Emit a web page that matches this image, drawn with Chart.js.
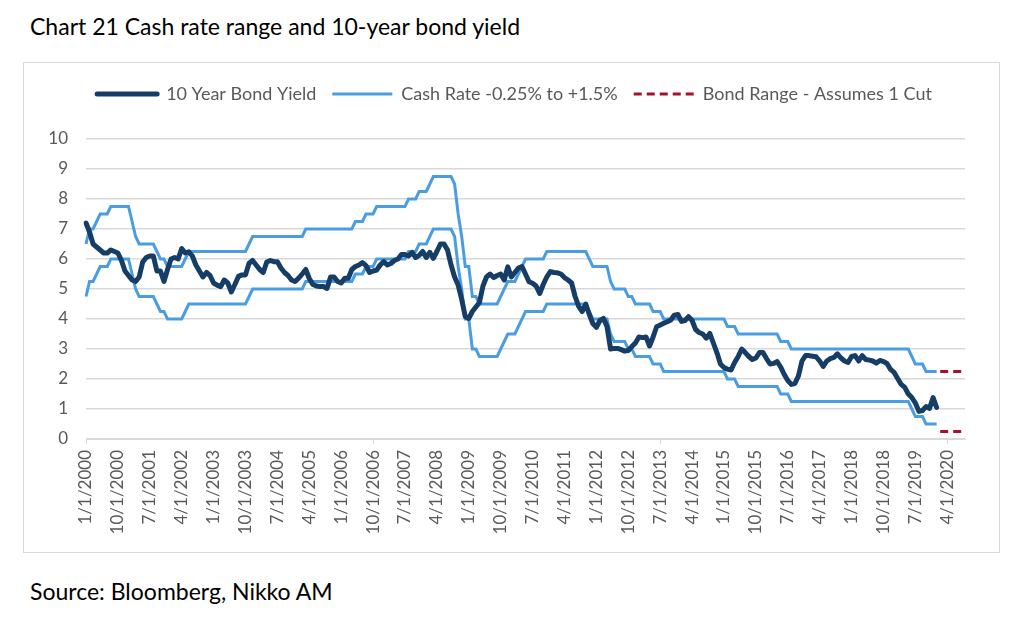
<!DOCTYPE html>
<html>
<head>
<meta charset="utf-8">
<title>Chart 21 Cash rate range and 10-year bond yield</title>
<script src="https://cdn.jsdelivr.net/npm/chart.js@4.4.0/dist/chart.umd.min.js"></script>
<style>
    body {
        margin: 0;
        background: #fff;
        font-family: Lato, 'Open Sans', sans-serif;
    }
    .title {
        position: absolute;
        left: 30px;
        top: 12px;
        font-size: 23px;
        color: #000;
        white-space: nowrap;
    }
    .box {
        position: absolute;
        left: 23px;
        top: 62px;
        width: 975px;
        height: 489px;
        border: 1px solid #d9d9d9;
    }
    .source {
        position: absolute;
        left: 30px;
        top: 577px;
        font-size: 23px;
        color: #000;
        white-space: nowrap;
    }
</style>
</head>
<body>
<div class="title">Chart 21 Cash rate range and 10-year bond yield</div>
<div class="box"><canvas id="rateChart" width="975" height="489"></canvas></div>
<div class="source">Source: Bloomberg, Nikko AM</div>

<script>
//globals
const firstYear = 2000;
const monthCount = 249; // 1/1/2000 .. 9/1/2020
const labelStep = 9;    // a tick label every 9 months

// 10 year bond yield, monthly, Jan 2000 .. Jan 2020
const bondYield = [
    7.2, 6.9, 6.5, 6.4, 6.3, 6.2, 6.2, 6.3, 6.25, 6.2, 5.95, 5.6,
    5.45, 5.3, 5.25, 5.4, 5.9, 6.05, 6.1, 6.1, 5.6, 5.6, 5.25, 5.65,
    6.0, 6.05, 6.0, 6.35, 6.2, 6.24, 6.1, 5.8, 5.6, 5.4, 5.55, 5.45,
    5.2, 5.13, 5.08, 5.3, 5.2, 4.9, 5.15, 5.42, 5.47, 5.47, 5.86, 5.95,
    5.8, 5.65, 5.55, 5.9, 5.95, 5.91, 5.91, 5.7, 5.55, 5.45, 5.3, 5.25,
    5.36, 5.5, 5.65, 5.35, 5.15, 5.1, 5.08, 5.08, 5.02, 5.4, 5.4, 5.25,
    5.2, 5.36, 5.36, 5.65, 5.75, 5.8, 5.88, 5.78, 5.55, 5.6, 5.63, 5.8,
    5.91, 5.8, 5.85, 5.95, 6.0, 6.15, 6.15, 6.1, 6.22, 6.05, 6.12, 6.25,
    6.05, 6.22, 6.02, 6.25, 6.5, 6.5, 6.3, 5.8, 5.4, 5.13, 4.65, 4.08,
    4.02, 4.25, 4.4, 4.55, 5.1, 5.4, 5.5, 5.38, 5.45, 5.5, 5.3, 5.74,
    5.4, 5.55, 5.7, 5.75, 5.5, 5.24, 5.19, 5.1, 4.85, 5.15, 5.4, 5.58,
    5.55, 5.54, 5.5, 5.38, 5.3, 5.2, 4.75, 4.42, 4.25, 4.5, 4.15, 3.85,
    3.72, 3.95, 4.02, 3.75, 3.0, 3.02, 3.02, 2.98, 2.93, 2.95, 3.08, 3.2,
    3.4, 3.38, 3.4, 3.1, 3.4, 3.74, 3.8, 3.86, 3.91, 3.97, 4.13, 4.15,
    3.92, 3.95, 4.08, 3.95, 3.65, 3.55, 3.5, 3.36, 3.52, 3.2, 2.88, 2.5,
    2.38, 2.33, 2.3, 2.55, 2.75, 3.0, 2.88, 2.75, 2.65, 2.7, 2.88, 2.88,
    2.68, 2.5, 2.52, 2.58, 2.4, 2.15, 1.95, 1.82, 1.85, 2.1, 2.6, 2.78,
    2.78, 2.76, 2.74, 2.6, 2.42, 2.6, 2.68, 2.72, 2.84, 2.7, 2.6, 2.55,
    2.75, 2.78, 2.6, 2.78, 2.65, 2.63, 2.6, 2.53, 2.62, 2.58, 2.52, 2.32,
    2.22, 2.02, 1.82, 1.72, 1.5, 1.38, 1.2, 0.92, 0.95, 1.08, 1.02, 1.38,
    1.05
];

// cash rate -0.25%, monthly
const cashLow = [
    4.75, 5.25, 5.25, 5.5, 5.75, 5.75, 5.75, 6.0, 6.0, 6.0, 6.0, 6.0,
    6.0, 5.5, 5.0, 4.75, 4.75, 4.75, 4.75, 4.75, 4.5, 4.25, 4.25, 4.0,
    4.0, 4.0, 4.0, 4.0, 4.25, 4.5, 4.5, 4.5, 4.5, 4.5, 4.5, 4.5,
    4.5, 4.5, 4.5, 4.5, 4.5, 4.5, 4.5, 4.5, 4.5, 4.5, 4.75, 5.0,
    5.0, 5.0, 5.0, 5.0, 5.0, 5.0, 5.0, 5.0, 5.0, 5.0, 5.0, 5.0,
    5.0, 5.0, 5.25, 5.25, 5.25, 5.25, 5.25, 5.25, 5.25, 5.25, 5.25, 5.25,
    5.25, 5.25, 5.25, 5.25, 5.5, 5.5, 5.5, 5.75, 5.75, 5.75, 6.0, 6.0,
    6.0, 6.0, 6.0, 6.0, 6.0, 6.0, 6.0, 6.25, 6.25, 6.25, 6.5, 6.5,
    6.5, 6.75, 7.0, 7.0, 7.0, 7.0, 7.0, 7.0, 6.75, 5.75, 5.0, 4.0,
    4.0, 3.0, 3.0, 2.75, 2.75, 2.75, 2.75, 2.75, 2.75, 3.0, 3.25, 3.5,
    3.5, 3.5, 3.75, 4.0, 4.25, 4.25, 4.25, 4.25, 4.25, 4.25, 4.5, 4.5,
    4.5, 4.5, 4.5, 4.5, 4.5, 4.5, 4.5, 4.5, 4.5, 4.5, 4.25, 4.0,
    4.0, 4.0, 4.0, 4.0, 3.5, 3.25, 3.25, 3.25, 3.25, 3.0, 3.0, 2.75,
    2.75, 2.75, 2.75, 2.75, 2.5, 2.5, 2.5, 2.25, 2.25, 2.25, 2.25, 2.25,
    2.25, 2.25, 2.25, 2.25, 2.25, 2.25, 2.25, 2.25, 2.25, 2.25, 2.25, 2.25,
    2.25, 2.0, 2.0, 2.0, 1.75, 1.75, 1.75, 1.75, 1.75, 1.75, 1.75, 1.75,
    1.75, 1.75, 1.75, 1.75, 1.5, 1.5, 1.5, 1.25, 1.25, 1.25, 1.25, 1.25,
    1.25, 1.25, 1.25, 1.25, 1.25, 1.25, 1.25, 1.25, 1.25, 1.25, 1.25, 1.25,
    1.25, 1.25, 1.25, 1.25, 1.25, 1.25, 1.25, 1.25, 1.25, 1.25, 1.25, 1.25,
    1.25, 1.25, 1.25, 1.25, 1.25, 1.0, 0.75, 0.75, 0.75, 0.5, 0.5, 0.5,
    0.5
];

// cash rate +1.5%, monthly
const cashHigh = [
    6.5, 7.0, 7.0, 7.25, 7.5, 7.5, 7.5, 7.75, 7.75, 7.75, 7.75, 7.75,
    7.75, 7.25, 6.75, 6.5, 6.5, 6.5, 6.5, 6.5, 6.25, 6.0, 6.0, 5.75,
    5.75, 5.75, 5.75, 5.75, 6.0, 6.25, 6.25, 6.25, 6.25, 6.25, 6.25, 6.25,
    6.25, 6.25, 6.25, 6.25, 6.25, 6.25, 6.25, 6.25, 6.25, 6.25, 6.5, 6.75,
    6.75, 6.75, 6.75, 6.75, 6.75, 6.75, 6.75, 6.75, 6.75, 6.75, 6.75, 6.75,
    6.75, 6.75, 7.0, 7.0, 7.0, 7.0, 7.0, 7.0, 7.0, 7.0, 7.0, 7.0,
    7.0, 7.0, 7.0, 7.0, 7.25, 7.25, 7.25, 7.5, 7.5, 7.5, 7.75, 7.75,
    7.75, 7.75, 7.75, 7.75, 7.75, 7.75, 7.75, 8.0, 8.0, 8.0, 8.25, 8.25,
    8.25, 8.5, 8.75, 8.75, 8.75, 8.75, 8.75, 8.75, 8.5, 7.5, 6.75, 5.75,
    5.75, 4.75, 4.75, 4.5, 4.5, 4.5, 4.5, 4.5, 4.5, 4.75, 5.0, 5.25,
    5.25, 5.25, 5.5, 5.75, 6.0, 6.0, 6.0, 6.0, 6.0, 6.0, 6.25, 6.25,
    6.25, 6.25, 6.25, 6.25, 6.25, 6.25, 6.25, 6.25, 6.25, 6.25, 6.0, 5.75,
    5.75, 5.75, 5.75, 5.75, 5.25, 5.0, 5.0, 5.0, 5.0, 4.75, 4.75, 4.5,
    4.5, 4.5, 4.5, 4.5, 4.25, 4.25, 4.25, 4.0, 4.0, 4.0, 4.0, 4.0,
    4.0, 4.0, 4.0, 4.0, 4.0, 4.0, 4.0, 4.0, 4.0, 4.0, 4.0, 4.0,
    4.0, 3.75, 3.75, 3.75, 3.5, 3.5, 3.5, 3.5, 3.5, 3.5, 3.5, 3.5,
    3.5, 3.5, 3.5, 3.5, 3.25, 3.25, 3.25, 3.0, 3.0, 3.0, 3.0, 3.0,
    3.0, 3.0, 3.0, 3.0, 3.0, 3.0, 3.0, 3.0, 3.0, 3.0, 3.0, 3.0,
    3.0, 3.0, 3.0, 3.0, 3.0, 3.0, 3.0, 3.0, 3.0, 3.0, 3.0, 3.0,
    3.0, 3.0, 3.0, 3.0, 3.0, 2.75, 2.5, 2.5, 2.5, 2.25, 2.25, 2.25,
    2.25
];

// bond range - assumes 1 cut
const rangeMonths = ['2/1/2020', '3/1/2020', '4/1/2020', '5/1/2020', '6/1/2020', '7/1/2020', '8/1/2020', '9/1/2020'];
const rangeHigh = [2.25, 2.25, 2.25, 2.25, 2.25, 2.25, 2.25, 2.25];
const rangeLow = [0.25, 0.25, 0.25, 0.25, 0.25, 0.25, 0.25, 0.25];

const yTicks = [0, 1, 2, 3, 4, 5, 6, 7, 8, 9, 10];

//month labels m/1/yyyy
const monthLabels = [];
for (let i = 0; i < monthCount; i++) {
    const month = (i % 12) + 1;
    const year = firstYear + Math.floor(i / 12);
    monthLabels.push(`${month}/1/${year}`);
}

const navy = '#163d66';
const lightBlue = '#4a9de2';
const darkRed = '#a5102a';
const textGrey = '#595959';
const gridGrey = '#d9d9d9';

document.addEventListener('DOMContentLoaded', () => {
    createChart();
})

function rangePoints(values) {
    return rangeMonths.map((month, index) => ({ x: month, y: values[index] }));
}

//legend samples drawn as lines with the dataset's own dash, width and cap
function legendLabels(chart) {
    const items = Chart.defaults.plugins.legend.labels.generateLabels(chart);
    items.forEach((item) => {
        const ds = chart.data.datasets[item.datasetIndex];
        item.lineDash = ds.borderDash || [];
        item.lineWidth = ds.borderWidth;
        item.lineCap = ds.borderCapStyle || 'butt';
        item.pointStyle = 'line';
    });
    return items;
}

function createChart() {
    const ctx = document.getElementById('rateChart');

    //keep room above the plot for the legend, and centre it like the original
    const legendSpace = {
        id: 'legendSpace',
        beforeInit(chart) {
            const fit = chart.legend.fit;
            chart.legend.fit = function () {
                fit.call(this);
                this.height = 70;
            };
        },
        afterLayout(chart) {
            chart.legend.left += 20;
            chart.legend.right += 20;
        }
    };

    new Chart(ctx, {
        type: 'line',
        data: {
            labels: monthLabels,
            datasets: [{
                label: '10 Year Bond Yield',
                data: bondYield,
                borderColor: navy,
                backgroundColor: navy,
                borderWidth: 5,
                borderCapStyle: 'round',
                borderJoinStyle: 'round'
            },
            {
                label: 'Cash Rate -0.25% to +1.5%',
                data: cashHigh,
                borderColor: lightBlue,
                backgroundColor: lightBlue,
                borderWidth: 3
            },
            {
                label: 'Cash Rate -0.25% to +1.5% (low)',
                data: cashLow,
                borderColor: lightBlue,
                backgroundColor: lightBlue,
                borderWidth: 3,
                inLegend: false
            },
            {
                label: 'Bond Range - Assumes 1 Cut',
                data: rangePoints(rangeHigh),
                borderColor: darkRed,
                backgroundColor: darkRed,
                borderWidth: 3,
                borderDash: [8, 5]
            },
            {
                label: 'Bond Range (low)',
                data: rangePoints(rangeLow),
                borderColor: darkRed,
                backgroundColor: darkRed,
                borderWidth: 3,
                borderDash: [8, 5],
                inLegend: false
            }
            ]
        },
        options: {
            responsive: false,
            animation: false,
            layout: {
                padding: { top: 6, right: 34, bottom: 0, left: 0 }
            },
            elements: {
                point: { radius: 0, hoverRadius: 0 },
                line: { tension: 0 }
            },
            plugins: {
                tooltip: { enabled: false },
                legend: {
                    position: 'top',
                    labels: {
                        color: textGrey,
                        font: { family: 'Lato', size: 18 },
                        usePointStyle: true,
                        pointStyle: 'line',
                        pointStyleWidth: 60,
                        boxHeight: 16,
                        padding: 16,
                        generateLabels: legendLabels,
                        filter: (item, data) => data.datasets[item.datasetIndex].inLegend !== false
                    }
                }
            },
            scales: {
                x: {
                    afterFit: (scale) => { scale.height = 113; },
                    border: { display: true, color: gridGrey, width: 1 },
                    grid: {
                        drawOnChartArea: false,
                        tickLength: 5,
                        color: (c) => c.index % labelStep === 0 ? gridGrey : 'rgba(0,0,0,0)'
                    },
                    ticks: {
                        autoSkip: false,
                        minRotation: 90,
                        maxRotation: 90,
                        padding: 6,
                        color: textGrey,
                        font: { family: 'Lato', size: 17 },
                        callback: function (value, index) {
                            return index % labelStep === 0 ? monthLabels[index] : null;
                        }
                    }
                },
                y: {
                    min: yTicks[0],
                    max: yTicks[yTicks.length - 1],
                    afterFit: (scale) => { scale.width = 62; },
                    afterBuildTicks: (scale) => {
                        scale.ticks = yTicks.map(v => ({ value: v }));
                    },
                    border: { display: false },
                    grid: { color: gridGrey, drawTicks: false, lineWidth: 1.5 },
                    ticks: {
                        padding: 18,
                        color: textGrey,
                        font: { family: 'Lato', size: 17 }
                    }
                }
            }
        },
        plugins: [legendSpace]
    });
}
</script>
</body>
</html>
